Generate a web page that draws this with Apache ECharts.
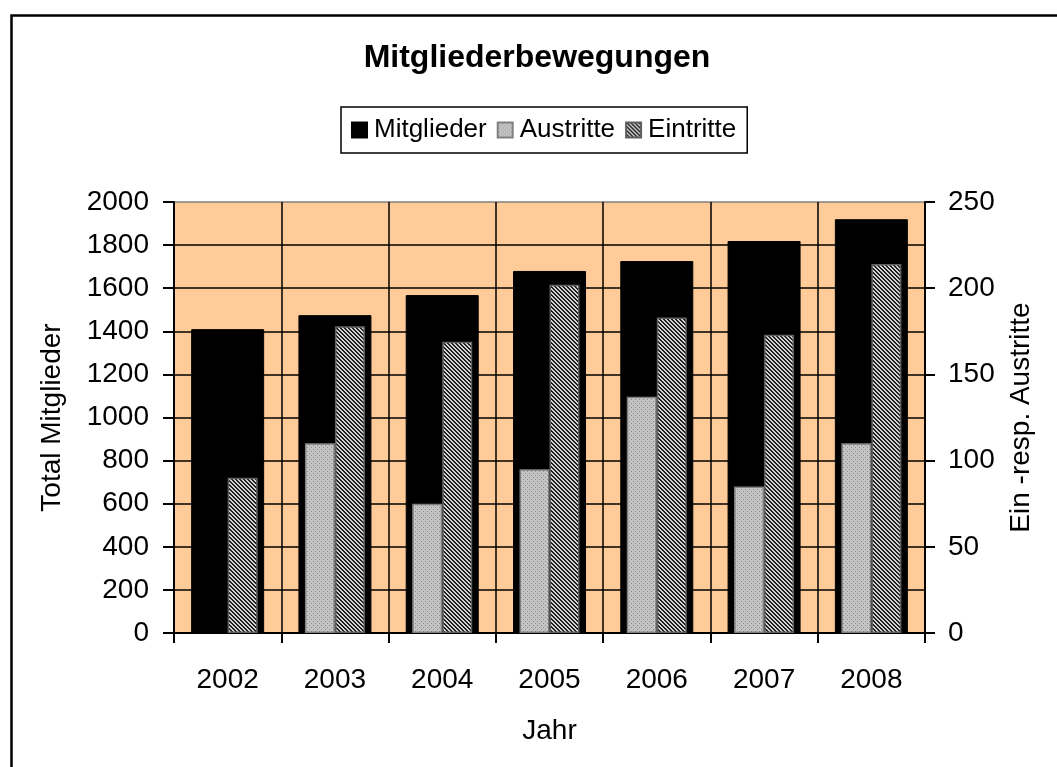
<!DOCTYPE html>
<html>
<head>
<meta charset="utf-8">
<script src="https://cdn.jsdelivr.net/npm/echarts@6/dist/echarts.min.js"></script>
<style>
html,body{margin:0;padding:0;background:#fff;}
#chart{width:1057px;height:767px;}
</style>
</head>
<body>
<div id="chart"></div>
<script>
var years = ['2002','2003','2004','2005','2006','2007','2008'];
var mitglieder = [1410, 1475, 1568, 1680, 1726, 1819, 1920];
var austritte = [0, 110, 75, 95, 137, 85, 110];
var eintritte = [90, 178, 169, 202, 183, 173, 214];

function dotPattern(){
  var c = document.createElement('canvas');
  c.width = 4; c.height = 4;
  var ctx = c.getContext('2d');
  ctx.fillStyle = '#c4c4c4'; ctx.fillRect(0,0,4,4);
  ctx.fillStyle = '#8a8a8a'; ctx.fillRect(1,1,1,1); ctx.fillRect(3,3,1,1);
  return c;
}
function hatchPattern(){
  var c = document.createElement('canvas');
  c.width = 4; c.height = 4;
  var ctx = c.getContext('2d');
  for (var y=0;y<4;y++){ for (var x=0;x<4;x++){
    var k = ((x - y) % 4 + 4) % 4;
    ctx.fillStyle = (k < 2) ? '#1e1e1e' : '#d4d4d4';
    ctx.fillRect(x,y,1,1);
  }}
  return c;
}

var FONT = 'Liberation Sans';
var chart = echarts.init(document.getElementById('chart'), null, {renderer:'canvas'});
var gridColors = [];
for (var i=0;i<10;i++) gridColors.push('#000');
gridColors.push('#808080');

function plain(v){ return String(v); }

var austritteData = austritte.map(function(v){
  return v === 0 ? {value: v, itemStyle: {borderWidth: 0}} : v;
});

chart.setOption({
  animation: false,
  backgroundColor: '#fff',
  textStyle: {fontFamily: FONT, color:'#000'},
  title: {
    text: 'Mitgliederbewegungen',
    left: 537, top: 42, padding: 0, textAlign: 'center',
    textStyle: {fontFamily: FONT, fontSize: 32, fontWeight: 'bold', color:'#000'}
  },
  legend: {
    left: 341, top: 107,
    padding: [8, 11, 8, 10],
    borderColor: '#000', borderWidth: 1.5,
    itemWidth: 15, itemHeight: 15, itemGap: 10,
    icon: 'rect',
    textStyle: {fontFamily: FONT, fontSize: 26, color:'#000', padding:[0,0,0,2], lineHeight: 30},
    data: ['Mitglieder','Austritte','Eintritte']
  },
  grid: {
    left: 174, right: 132, top: 202, bottom: 134,
    show: true, backgroundColor: '#FFCC99', borderWidth: 0
  },
  graphic: [{
    type: 'rect', left: 9, top: 13, silent: true, z: 100,
    shape: {x: 0, y: 0, width: 1100, height: 800},
    style: {fill: 'none', stroke: '#000', lineWidth: 2.5}
  }],
  xAxis: [{
    type: 'category', data: years,
    name: 'Jahr', nameLocation: 'middle', nameGap: 84,
    nameTextStyle: {fontFamily: FONT, fontSize: 28, color:'#000'},
    axisLine: {lineStyle: {color:'#000', width: 2}},
    axisTick: {show: true, length: 10, lineStyle: {color:'#000', width: 2}},
    axisLabel: {fontFamily: FONT, fontSize: 28, color:'#000', margin: 33},
    splitLine: {show: true, interval: 0, lineStyle: {color:'#000', width: 1.5}}
  },{
    type: 'category', data: years, show: false, position: 'bottom'
  }],
  yAxis: [{
    type: 'value', min: 0, max: 2000, interval: 200,
    name: 'Total Mitglieder', nameLocation: 'middle', nameGap: 108, nameRotate: 90,
    nameTextStyle: {fontFamily: FONT, fontSize: 28, color:'#000'},
    axisLine: {show: true, lineStyle: {color:'#000', width: 2}},
    axisTick: {show: true, length: 11, lineStyle: {color:'#000', width: 2}},
    axisLabel: {fontFamily: FONT, fontSize: 28, color:'#000', margin: 25, formatter: plain},
    splitLine: {show: true, lineStyle: {color: gridColors, width: 1.5}}
  },{
    type: 'value', min: 0, max: 250, interval: 50, position: 'right',
    name: 'Ein -resp. Austritte', nameLocation: 'middle', nameGap: 82, nameRotate: 90,
    nameTextStyle: {fontFamily: FONT, fontSize: 28, color:'#000'},
    axisLine: {show: true, lineStyle: {color:'#000', width: 2}},
    axisTick: {show: true, length: 10, lineStyle: {color:'#000', width: 2}},
    axisLabel: {fontFamily: FONT, fontSize: 28, color:'#000', margin: 23, formatter: plain},
    splitLine: {show: false}
  }],
  series: [{
    name: 'Mitglieder', type: 'bar', xAxisIndex: 0, yAxisIndex: 0,
    data: mitglieder, barWidth: 73,
    itemStyle: {color: '#000', borderColor: '#000', borderWidth: 1}
  },{
    name: 'Austritte', type: 'bar', xAxisIndex: 1, yAxisIndex: 1,
    data: austritteData, barWidth: 30, barGap: '0%',
    itemStyle: {color: {image: dotPattern(), repeat: 'repeat'}, borderColor: '#808080', borderWidth: 1.5}
  },{
    name: 'Eintritte', type: 'bar', xAxisIndex: 1, yAxisIndex: 1,
    data: eintritte, barWidth: 30, barGap: '0%',
    itemStyle: {color: {image: hatchPattern(), repeat: 'repeat'}, borderColor: '#606060', borderWidth: 1.5}
  }]
});
</script>
</body>
</html>
